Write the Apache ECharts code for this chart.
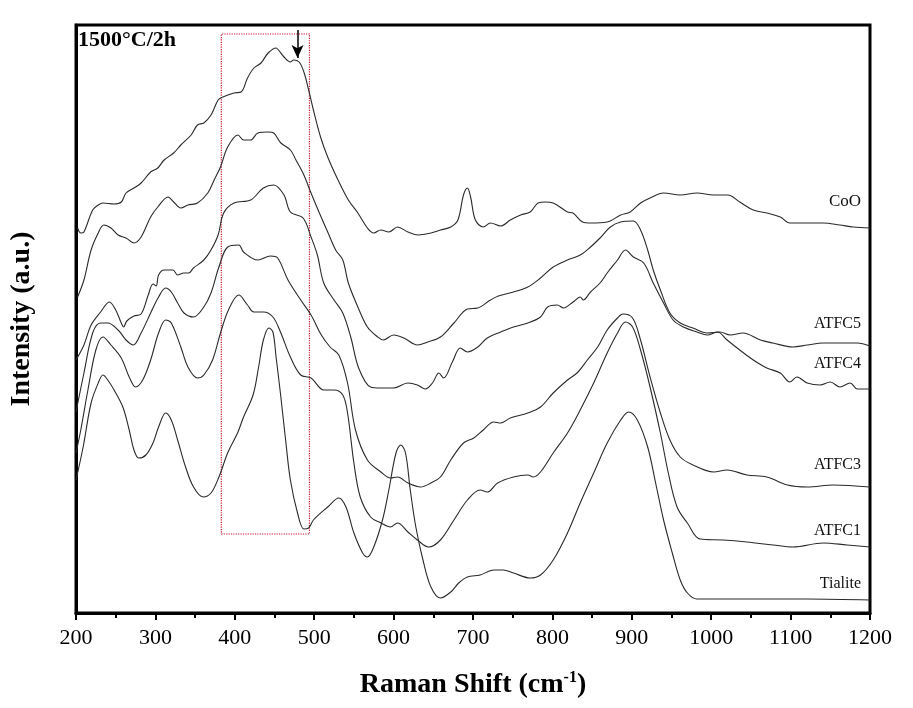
<!DOCTYPE html>
<html>
<head>
<meta charset="utf-8">
<script src="https://cdn.jsdelivr.net/npm/echarts@6/dist/echarts.min.js"></script>
<style>
html,body{margin:0;padding:0;background:#fff;}
#chart{width:913px;height:708px;}
</style>
</head>
<body>
<div id="chart"></div>
<script>
// Raman shift (cm-1) and intensity (a.u.) per sample
var coX = [202,206,210,221,228,234,248,257,263,273,282,294,303,311,323,332,345,353,361,370,379,385,399,408,416,424,433,442,452,455,462,470,474,481,487,493,499,508,517,530,543,555,567,575,584,594,605,618,631,647,659,672,681,688,693,697,703,713,722,735,747,760,772,782,791,801,819,826,838,848,869,886,898,911,923,940,961,982,1003,1021,1036,1053,1070,1087,1099,1121,1141,1162,1179,1200];
var coY = [385,380,381,403,408,410,409,411,420,425,430,441,445,453,460,468,478,488,490,498,513,516,520,521,535,545,550,560,565,563,556,551,553,551,541,523,503,476,456,433,413,400,385,380,383,381,386,381,378,380,383,386,393,418,425,416,393,386,390,387,393,398,401,410,411,410,401,400,391,390,391,398,401,410,415,420,418,420,418,418,411,403,400,396,390,390,390,388,386,385];

var atfc5X = [202,210,219,228,235,244,253,263,273,282,294,303,316,323,332,341,353,366,374,382,391,404,411,420,429,442,449,458,470,477,487,496,506,517,527,536,543,555,567,580,587,600,613,630,643,659,676,693,706,722,732,751,769,785,801,819,835,848,860,873,886,902,911,920,927,936,948,961,977,995,1011,1024,1040,1062,1078,1103,1121,1141,1162,1184,1200];
var atfc5Y = [316,333,363,380,388,385,378,375,370,376,396,406,416,411,405,408,410,420,433,446,466,478,473,473,480,481,480,470,463,453,438,420,401,381,363,353,330,306,286,276,273,278,275,268,271,276,290,304,305,313,317,321,326,335,346,353,358,366,375,386,391,392,383,363,343,323,300,290,285,280,281,278,280,273,270,266,268,270,270,270,267];

var atfc4X = [200,210,219,231,242,250,257,260,264,273,282,291,297,301,304,311,322,328,336,342,348,361,370,379,386,399,420,436,449,462,470,486,496,504,512,525,536,546,556,571,584,600,618,630,640,649,657,663,674,684,693,706,718,735,751,769,785,794,806,814,826,835,839,848,860,869,882,892,902,915,927,940,952,965,982,995,1008,1020,1036,1053,1070,1087,1099,1108,1121,1137,1150,1162,1175,1184,1200];
var atfc4Y = [253,268,288,301,311,303,290,286,292,297,299,318,329,327,338,343,343,338,340,340,345,353,363,378,400,410,413,425,428,418,401,395,376,358,330,313,300,276,245,226,225,225,230,228,224,230,240,235,251,265,261,266,275,281,286,290,296,306,308,305,311,316,313,321,330,340,353,363,356,350,330,310,293,286,281,278,281,273,263,253,245,240,231,236,230,228,231,226,230,224,224];

var atfc3X = [200,210,221,231,240,253,263,272,282,294,304,313,320,328,336,348,361,370,380,391,405,411,429,445,454,467,483,496,509,520,531,542,552,567,584,596,605,618,634,647,659,672,688,701,713,726,735,747,769,785,801,819,831,844,857,869,882,889,901,911,923,936,948,961,977,1003,1020,1045,1070,1096,1121,1154,1200];
var atfc3Y = [201,240,280,290,290,283,273,268,280,300,316,325,321,310,300,296,306,320,346,366,368,361,353,357,355,333,313,298,278,266,258,230,183,153,141,135,136,130,126,130,136,153,170,175,183,191,190,195,200,206,220,233,240,253,266,283,295,299,295,273,236,200,173,156,148,141,143,138,136,128,126,128,126];

var atfc1X = [200,206,215,225,234,244,257,267,275,284,294,304,313,320,332,341,353,361,372,382,392,405,416,424,436,448,458,470,483,496,512,525,536,542,550,558,571,584,596,605,618,630,644,659,676,693,709,718,731,751,769,776,785,801,819,835,852,869,882,892,901,911,923,936,946,957,970,986,1015,1045,1078,1103,1141,1171,1200];
var atfc1Y = [160,183,223,263,276,268,255,236,226,233,253,280,293,290,266,246,235,238,253,280,303,318,308,301,301,296,280,256,238,235,223,223,218,200,150,116,96,90,86,90,81,73,66,73,93,113,123,121,130,136,138,136,141,160,180,203,230,260,280,291,286,263,226,180,140,106,90,74,73,71,68,66,70,68,66];

var tialiteX = [200,209,219,228,234,240,248,259,267,273,279,288,297,304,313,320,328,338,348,360,370,380,391,404,411,423,430,436,443,448,452,458,464,470,479,487,493,499,517,531,540,550,561,567,575,586,594,603,609,615,621,628,637,647,659,672,682,693,709,726,738,751,772,785,801,819,835,852,869,886,896,907,920,930,940,951,961,970,982,1036,1121,1200];
var tialiteY = [133,166,210,230,238,233,223,206,183,163,155,158,170,186,200,193,173,146,126,116,120,136,160,181,196,218,246,273,285,281,256,216,173,133,100,84,85,93,106,115,106,80,60,56,66,93,123,160,168,160,123,86,53,26,15,21,30,36,38,43,43,40,35,38,53,80,110,140,170,193,201,193,166,130,93,60,33,20,14,14,14,13];

var seriesNames = ['CoO','ATFC5','ATFC4','ATFC3','ATFC1','Tialite'];
var xTicks = [200,300,400,500,600,700,800,900,1000,1100,1200];
var boxRange = [[383,79],[494,579]];      // dotted box corners (shift, intensity)
var arrowPts = [[479,583],[479,555]];     // arrow start, tip
var labelText = '1500°C/2h';

function zip(xs, ys){ return xs.map(function(x,i){ return [x, ys[i]]; }); }
var allX = [coX, atfc5X, atfc4X, atfc3X, atfc1X, tialiteX];
var allY = [coY, atfc5Y, atfc4Y, atfc3Y, atfc1Y, tialiteY];

var serif = '"Liberation Serif","Times New Roman",serif';

var series = seriesNames.map(function(name, i){
  var s = {
    name: name, type: 'line', data: zip(allX[i], allY[i]),
    showSymbol: false, symbol: 'none', smooth: 0.35,
    lineStyle: {color: '#2a2a2a', width: 1.1},
    silent: true, z: 3
  };
  if (i === 0) {
    s.markArea = {
      silent: true,
      itemStyle: {color: 'rgba(0,0,0,0)', borderColor: '#c8102e', borderWidth: 1.2, borderType: 'dotted'},
      data: [[{coord: boxRange[0]}, {coord: boxRange[1]}]]
    };
    s.markLine = {
      silent: true, symbol: ['none','arrow'], symbolSize: [9, 13],
      label: {show: false},
      lineStyle: {color: '#000', width: 1.5, type: 'solid'},
      data: [[{coord: arrowPts[0]}, {coord: arrowPts[1]}]]
    };
  }
  return s;
});

var labelPos = [208, 330, 370, 471, 537, 590];
var labelSize = [17, 16, 16, 16, 16, 16];
var graphics = seriesNames.map(function(name, i){
  return {type: 'text', right: 52, top: labelPos[i] - labelSize[i]*0.9,
    style: {text: name, font: labelSize[i] + 'px ' + serif, fill: '#111', textAlign: 'right'}};
});
graphics.push({type: 'text', left: 78, top: 29,
  style: {text: labelText, font: 'bold 22px ' + serif, fill: '#000'}});

var chart = echarts.init(document.getElementById('chart'), null, {renderer: 'canvas'});
chart.setOption({
  animation: false,
  backgroundColor: '#fff',
  grid: {left: 75, right: 43, top: 25, bottom: 95, show: true, borderColor: '#000', borderWidth: 3, backgroundColor: 'transparent'},
  xAxis: {
    type: 'value', min: xTicks[0], max: xTicks[xTicks.length-1], interval: 100,
    name: 'Raman Shift (cm{sup|-1})', nameLocation: 'middle', nameGap: 57,
    nameTextStyle: {fontFamily: serif, fontWeight: 'bold', fontSize: 28, color: '#000',
      rich: {sup: {fontFamily: serif, fontWeight: 'bold', fontSize: 16, verticalAlign: 'top', padding: [0,0,14,0], color: '#000'}}},
    axisLine: {lineStyle: {color: '#000', width: 3}},
    axisTick: {show: true, inside: false, length: 7, lineStyle: {color: '#000', width: 2}},
    minorTick: {show: true, splitNumber: 2, length: 5, lineStyle: {color: '#000', width: 2}},
    axisLabel: {fontFamily: serif, fontSize: 22, color: '#000', margin: 14,
      formatter: function(v){ return String(v); }},
    splitLine: {show: false}
  },
  yAxis: {
    type: 'value', min: 0, max: 588,
    name: 'Intensity (a.u.)', nameLocation: 'middle', nameGap: 40,
    nameTextStyle: {fontFamily: serif, fontWeight: 'bold', fontSize: 28, color: '#000'},
    axisLine: {show: true, lineStyle: {color: '#000', width: 3}},
    axisTick: {show: false}, axisLabel: {show: false}, splitLine: {show: false}
  },
  series: series,
  graphic: graphics
});
</script>
</body>
</html>
